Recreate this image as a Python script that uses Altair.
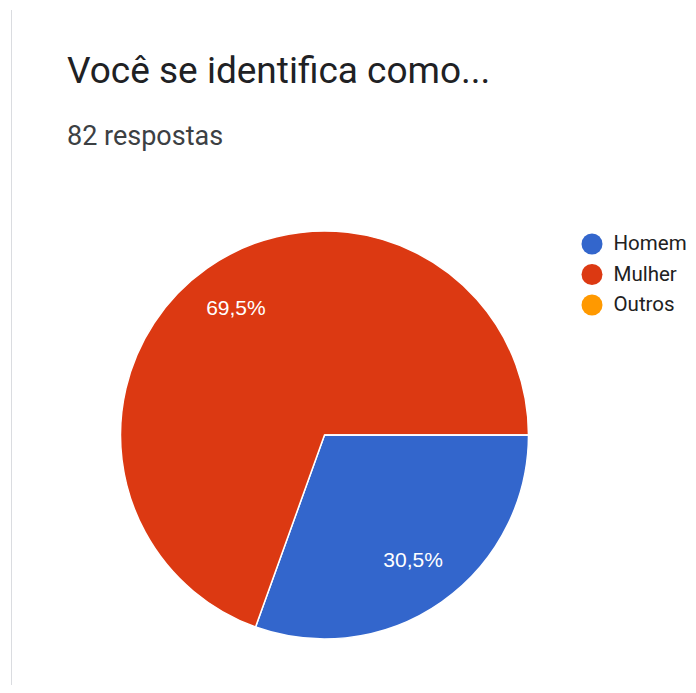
import math
import altair as alt
import pandas as pd

categories = ["Homem", "Mulher", "Outros"]
counts = [25, 57, 0]
colors = ["#3366CC", "#DC3912", "#FF9900"]
title_text = "Você se identifica como..."
subtitle_text = "82 respostas"

total = sum(counts)
df = pd.DataFrame({
    "cat": categories,
    "count": counts,
    "idx": list(range(len(categories))),
})
df["label"] = [f"{c / total * 100:.1f}%".replace(".", ",") for c in counts]

# layout (chart coordinates)
CX, CY = 316.5, 427.0   # pie centre
R = 204
OX, OY = 100, 215       # view origin inside chart
W = int(2 * (CX - OX))
H = int(2 * (CY - OY))
TOTAL_W, TOTAL_H = 680, 677

theta_scale = alt.Scale(range=[math.pi / 2, math.pi / 2 + 2 * math.pi])
color_scale = alt.Scale(domain=categories, range=colors)

base = alt.Chart(df)

pie = base.mark_arc(outerRadius=R, stroke="white", strokeWidth=1.5).encode(
    theta=alt.Theta("count:Q", stack=True, scale=theta_scale),
    color=alt.Color(
        "cat:N",
        scale=color_scale,
        sort=categories,
        legend=alt.Legend(
            title=None,
            orient="none",
            legendX=584 - OX - 10.5,
            legendY=236 - OY - 10.5,
            symbolType="circle",
            symbolSize=441,
            symbolStrokeWidth=0,
            labelFont="Roboto",
            labelFontSize=20.5,
            labelColor="#212121",
            labelOffset=11,
            rowPadding=9.5,
            padding=0,
        ),
    ),
    order=alt.Order("idx:Q"),
)

labels = base.transform_filter("datum.count > 0").mark_text(
    radius=154,
    font="Liberation Sans",
    fontSize=21,
    color="#FFFFFF",
    align="center",
    baseline="middle",
).encode(
    theta=alt.Theta("count:Q", stack=True, scale=theta_scale),
    text="label:N",
    order=alt.Order("idx:Q"),
)

title = alt.Chart(pd.DataFrame({"t": [title_text]})).mark_text(
    font="Roboto", fontSize=37, color="#202124", align="left", baseline="alphabetic"
).encode(text="t:N", x=alt.value(59 - OX), y=alt.value(75 - OY))

subtitle = alt.Chart(pd.DataFrame({"t": [subtitle_text]})).mark_text(
    font="Roboto", fontSize=27, color="#3c4043", align="left", baseline="alphabetic"
).encode(text="t:N", x=alt.value(59 - OX), y=alt.value(137 - OY))

border = alt.Chart(pd.DataFrame({"a": [0]})).mark_rule(color="#dadce0", strokeWidth=1).encode(
    x=alt.value(3.5 - OX), y=alt.value(2 - OY), y2=alt.value(685 - OY)
)

chart = alt.layer(border, pie, labels, title, subtitle).properties(
    width=W,
    height=H,
    autosize=alt.AutoSizeParams(type="none"),
    padding={"left": OX, "top": OY, "right": TOTAL_W - OX - W, "bottom": TOTAL_H - OY - H},
    background="white",
).configure_view(stroke=None)

chart.save("out.html", embed_options={"renderer": "svg", "actions": False})
